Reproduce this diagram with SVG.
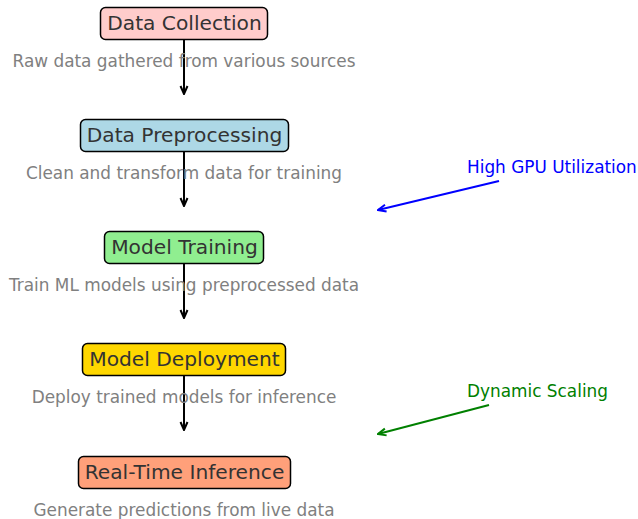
<svg xmlns="http://www.w3.org/2000/svg" width="638" height="519" viewBox="0 0 638 519">
  <style>
    .box { stroke: #000; stroke-width: 1.5; }
    .title { font-family: "DejaVu Sans", sans-serif; font-size: 20.2px; fill: #333; text-anchor: middle; }
    .desc { font-family: "DejaVu Sans", sans-serif; font-size: 16.9px; fill: #808080; text-anchor: middle; }
    .flow { stroke: #000; stroke-width: 2; fill: none; }
    .note { font-family: "DejaVu Sans", sans-serif; font-size: 16.9px; }
  </style>
  <defs>
    <marker id="headBlack" viewBox="0 0 10 10" refX="9" refY="5" markerWidth="10" markerHeight="10" orient="auto" markerUnits="userSpaceOnUse">
      <path d="M1,1.5 L9,5 L1,8.5" fill="none" stroke="#000" stroke-width="2"/>
    </marker>
    <marker id="headBlue" viewBox="0 0 10 10" refX="9" refY="5" markerWidth="10" markerHeight="10" orient="auto" markerUnits="userSpaceOnUse">
      <path d="M1,1.5 L9,5 L1,8.5" fill="none" stroke="#0000ff" stroke-width="2"/>
    </marker>
    <marker id="headGreen" viewBox="0 0 10 10" refX="9" refY="5" markerWidth="10" markerHeight="10" orient="auto" markerUnits="userSpaceOnUse">
      <path d="M1,1.5 L9,5 L1,8.5" fill="none" stroke="#008000" stroke-width="2"/>
    </marker>
  </defs>

  <g id="connectors">
    <line class="flow" x1="184" y1="40" x2="184" y2="94" marker-end="url(#headBlack)"/>
    <line class="flow" x1="184" y1="152" x2="184" y2="206" marker-end="url(#headBlack)"/>
    <line class="flow" x1="184" y1="264" x2="184" y2="318" marker-end="url(#headBlack)"/>
    <line class="flow" x1="184" y1="376" x2="184" y2="430" marker-end="url(#headBlack)"/>
    <line x1="499" y1="181" x2="378" y2="210" stroke="#0000ff" stroke-width="2" marker-end="url(#headBlue)"/>
    <line x1="489" y1="405" x2="378" y2="434" stroke="#008000" stroke-width="2" marker-end="url(#headGreen)"/>
  </g>

  <g id="data-collection">
    <rect class="box" x="100.5" y="7.5" width="167" height="32" rx="5" fill="#ffcccb"/>
    <text class="title" x="184.5" y="30">Data Collection</text>
    <text class="desc" x="184" y="67">Raw data gathered from various sources</text>
  </g>

  <g id="data-preprocessing">
    <rect class="box" x="80.5" y="119.5" width="208" height="32" rx="5" fill="#add8e6"/>
    <text class="title" x="184.5" y="142">Data Preprocessing</text>
    <text class="desc" x="184" y="179">Clean and transform data for training</text>
  </g>

  <g id="model-training">
    <rect class="box" x="104.5" y="231.5" width="159" height="32" rx="5" fill="#90ee90"/>
    <text class="title" x="184.5" y="254">Model Training</text>
    <text class="desc" x="184" y="291">Train ML models using preprocessed data</text>
  </g>

  <g id="model-deployment">
    <rect class="box" x="82.5" y="343.5" width="203" height="32" rx="5" fill="#ffd700"/>
    <text class="title" x="184.5" y="366">Model Deployment</text>
    <text class="desc" x="184" y="403">Deploy trained models for inference</text>
  </g>

  <g id="real-time-inference">
    <rect class="box" x="78.5" y="456.5" width="212" height="32" rx="5" fill="#ffa07a"/>
    <text class="title" x="184.5" y="479">Real-Time Inference</text>
    <text class="desc" x="184" y="516">Generate predictions from live data</text>
  </g>

  <g id="gpu-note">
    <text class="note" x="467" y="173" fill="#0000ff">High GPU Utilization</text>
  </g>

  <g id="scaling-note">
    <text class="note" x="467" y="397" fill="#008000">Dynamic Scaling</text>
  </g>
</svg>
